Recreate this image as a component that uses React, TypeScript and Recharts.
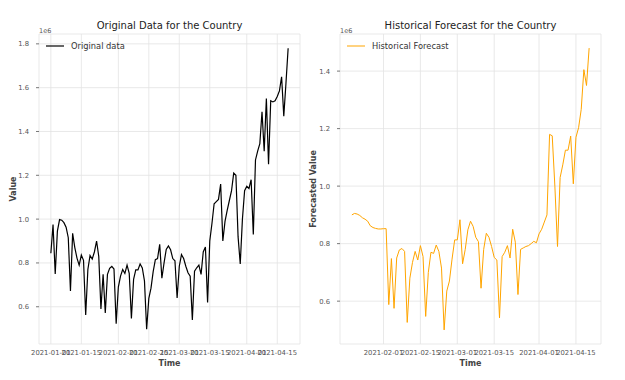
import { LineChart, Line, XAxis, YAxis, CartesianGrid, Legend } from "recharts";

// values in millions (axis offset shows 1e6), daily from 2021-01-01
const originalValues = [
  0.844, 0.975, 0.75, 0.945, 0.998, 0.995, 0.984, 0.963, 0.915, 0.672,
  0.935, 0.87, 0.822, 0.79, 0.836, 0.812, 0.562, 0.77, 0.834, 0.818,
  0.85, 0.9, 0.83, 0.59, 0.748, 0.572, 0.748, 0.775, 0.784, 0.772,
  0.523, 0.69, 0.74, 0.77, 0.752, 0.79, 0.752, 0.546, 0.725, 0.768,
  0.768, 0.795, 0.777, 0.718, 0.497, 0.638, 0.685, 0.76, 0.815, 0.82,
  0.885, 0.73, 0.8, 0.862, 0.878, 0.86, 0.82, 0.81, 0.64, 0.785,
  0.838, 0.82, 0.785, 0.755, 0.74, 0.54, 0.762, 0.778, 0.79, 0.748,
  0.85, 0.873, 0.62, 0.9, 0.98, 1.07, 1.08, 1.09, 1.16, 0.9,
  0.99, 1.04, 1.085, 1.13, 1.21, 1.2, 0.92, 0.795, 1.0, 1.13,
  1.15, 1.14, 1.18, 0.93, 1.27, 1.31, 1.345, 1.49, 1.31, 1.55,
  1.25, 1.54, 1.535, 1.54, 1.56, 1.585, 1.65, 1.47, 1.62, 1.78,
];

// forecast begins 19 days later, on 2021-01-20
const forecastOffset = 19;
const forecastValues = [
  0.9, 0.905, 0.903, 0.898, 0.89, 0.885, 0.878, 0.862, 0.856, 0.853,
  0.851, 0.851, 0.852, 0.852, 0.588, 0.748, 0.575, 0.75, 0.778, 0.783,
  0.773, 0.526, 0.68, 0.735, 0.773, 0.743, 0.793, 0.755, 0.547, 0.7,
  0.77, 0.766, 0.795, 0.773, 0.715, 0.5, 0.635, 0.67, 0.746, 0.813,
  0.813, 0.883, 0.73, 0.78, 0.848, 0.878, 0.86, 0.822, 0.807, 0.645,
  0.78, 0.836, 0.822, 0.79, 0.752, 0.743, 0.542, 0.755, 0.77, 0.793,
  0.75, 0.85, 0.805, 0.623, 0.78, 0.785, 0.79, 0.793, 0.8, 0.808,
  0.803, 0.834, 0.85, 0.875, 0.9, 1.18, 1.175, 1.0, 0.79, 1.03,
  1.074, 1.125, 1.125, 1.174, 1.008, 1.17, 1.203, 1.267, 1.405, 1.35,
  1.48,
];

// day offsets from 2021-01-01 and their labels
const dateTicks = [0, 14, 31, 45, 59, 73, 90, 104];
const dateLabels = [
  "2021-01-01", "2021-01-15", "2021-02-01", "2021-02-15",
  "2021-03-01", "2021-03-15", "2021-04-01", "2021-04-15",
];
const originalYTicks = [0.6, 0.8, 1.0, 1.2, 1.4, 1.6, 1.8];
const forecastYTicks = [0.6, 0.8, 1.0, 1.2, 1.4];

const originalData = originalValues.map((v, i) => ({ day: i, value: v }));
const forecastData = forecastValues.map((v, i) => ({ day: i + forecastOffset, value: v }));

const FONT = "'DejaVu Sans', sans-serif";
const tickStyle = { fontSize: 6.8, fill: "#555", fontFamily: FONT };
const fmtDate = (d: number) => dateLabels[dateTicks.indexOf(d)] ?? "";

interface PanelProps {
  data: { day: number; value: number }[];
  left: number;
  width: number;
  yWidth: number;
  rightMargin: number;
  xDomain: [number, number];
  yDomain: [number, number];
  xTicks: number[];
  yTicks: number[];
  color: string;
  strokeWidth: number;
  name: string;
  title: string;
  yLabel: string;
  yLabelX: number;
}

function Panel(p: PanelProps) {
  const plotLeft = p.left + p.yWidth;
  const plotRight = p.left + p.width - p.rightMargin;
  const cx = (plotLeft + plotRight) / 2;
  return (
    <>
      <div style={{ position: "absolute", left: p.left, top: 0 }}>
        <LineChart
          width={p.width}
          height={380}
          data={p.data}
          margin={{ top: 34, right: p.rightMargin, bottom: 16, left: 0 }}
        >
          <CartesianGrid stroke="#e3e3e3" strokeWidth={0.8} />
          <XAxis
            dataKey="day"
            type="number"
            domain={p.xDomain}
            allowDataOverflow
            ticks={p.xTicks}
            interval={0}
            tickFormatter={fmtDate}
            tick={tickStyle}
            axisLine={false}
            tickLine={false}
            tickMargin={0}
            height={20}
          />
          <YAxis
            type="number"
            domain={p.yDomain}
            allowDataOverflow
            ticks={p.yTicks}
            interval={0}
            tickFormatter={(v: number) => v.toFixed(1)}
            tick={tickStyle}
            axisLine={false}
            tickLine={{ stroke: "#555", strokeWidth: 0.8 }}
            tickSize={3}
            tickMargin={7}
            width={p.yWidth}
          />
          <Legend
            layout="horizontal"
            verticalAlign="middle"
            align="center"
            wrapperStyle={{ top: 41, left: p.yWidth + 7, width: "auto" }}
            content={() => (
              <div style={{ display: "flex", alignItems: "center", fontFamily: FONT }}>
                <svg width={18} height={10}>
                  <line x1={0} y1={5} x2={18} y2={5} stroke={p.color} strokeWidth={p.strokeWidth} />
                </svg>
                <span style={{ marginLeft: 7, fontSize: 8.3, color: "#333" }}>{p.name}</span>
              </div>
            )}
          />
          <Line
            type="linear"
            dataKey="value"
            name={p.name}
            stroke={p.color}
            strokeWidth={p.strokeWidth}
            dot={false}
            isAnimationActive={false}
          />
        </LineChart>
      </div>
      <div
        style={{
          position: "absolute", left: cx, top: 26, transform: "translate(-50%, -50%)",
          fontSize: 10, color: "#222", whiteSpace: "nowrap",
        }}
      >
        {p.title}
      </div>
      <div
        style={{
          position: "absolute", left: plotLeft, top: 30.5, transform: "translateY(-50%)",
          fontSize: 6.5, color: "#555",
        }}
      >
        1e6
      </div>
      <div
        style={{
          position: "absolute", left: cx, top: 364, transform: "translate(-50%, -50%)",
          fontSize: 8, fontWeight: "bold", color: "#444",
        }}
      >
        Time
      </div>
      <div
        style={{
          position: "absolute", left: p.yLabelX, top: 189,
          transform: "translate(-50%, -50%) rotate(-90deg)",
          fontSize: 8, fontWeight: "bold", color: "#444", whiteSpace: "nowrap",
        }}
      >
        {p.yLabel}
      </div>
    </>
  );
}

export default function App() {
  return (
    <div
      style={{
        position: "absolute", left: 0, top: 0, width: 625, height: 380,
        background: "#fff", fontFamily: FONT, lineHeight: 1,
      }}
    >
      <Panel
        data={originalData}
        left={0}
        width={310}
        yWidth={39}
        rightMargin={10}
        xDomain={[-5.45, 114.45]}
        yDomain={[0.43, 1.845]}
        xTicks={dateTicks}
        yTicks={originalYTicks}
        color="#000"
        strokeWidth={1.2}
        name="Original data"
        title="Original Data for the Country"
        yLabel="Value"
        yLabelX={13.5}
      />
      <Panel
        data={forecastData}
        left={310}
        width={315}
        yWidth={30}
        rightMargin={24}
        xDomain={[14.5, 113.5]}
        yDomain={[0.451, 1.529]}
        xTicks={dateTicks.slice(2)}
        yTicks={forecastYTicks}
        color="#FFA500"
        strokeWidth={1}
        name="Historical Forecast"
        title="Historical Forecast for the Country"
        yLabel="Forecasted Value"
        yLabelX={314}
      />
    </div>
  );
}
